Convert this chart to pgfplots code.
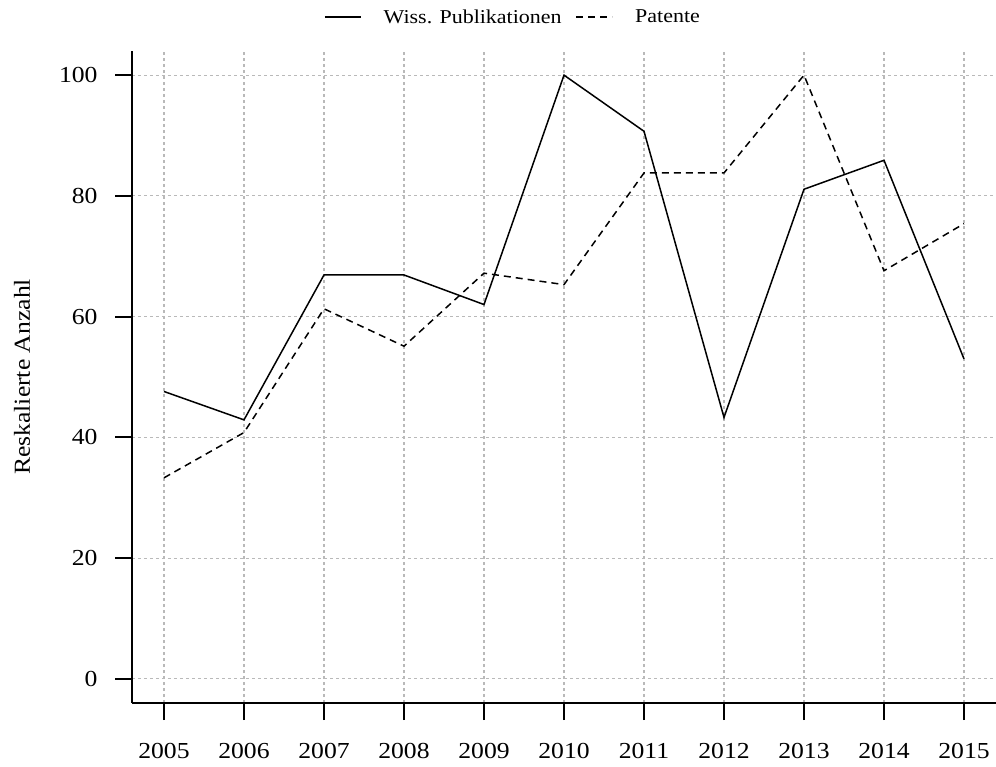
\documentclass[border=0pt]{standalone}
\usepackage{fontspec}
\setmainfont{Liberation Serif}[FakeStretch=1.12]
\usepackage{pgfplots}
\pgfplotsset{compat=1.18}

\pgfplotstableread{
year pub pat
2005 47.6 33.3
2006 42.9 40.8
2007 66.9 61.3
2008 66.9 55.1
2009 62.0 67.2
2010 100.0 65.3
2011 90.7 83.8
2012 43.3 83.8
2013 81.1 100.0
2014 85.9 67.6
2015 53.0 75.4
}\datatable

\begin{document}
\begin{tikzpicture}
% page = 996 x 767 px, axis area starts 132 px from left, 64 px from bottom
\path[use as bounding box] (-132bp,-64bp) rectangle (864bp,703bp);
\begin{axis}[
    at={(0,0)}, anchor=south west,
    scale only axis,
    width=864bp, height=652bp,
    xmin=2004.6, xmax=2015.4,
    ymin=-4, ymax=104,
    axis x line*=bottom, axis y line*=left,
    axis line style={-, line width=1.8bp},
    xtick={2005,2006,...,2015},
    ytick={0,20,...,100},
    tick align=outside,
    major tick length=17bp,
    tick style={line width=1.8bp, black},
    grid=major,
    grid style={gray!55, line width=1.1bp, dash pattern=on 3bp off 3bp},
    /pgf/number format/assume math mode=true,
    /pgf/number format/1000 sep={},
    ticklabel style={font=\fontsize{23}{27}\selectfont},
    xticklabel style={yshift=-20bp},
    yticklabel style={xshift=-14bp},
    ylabel={Reskalierte Anzahl},
    every axis y label/.style={at={([xshift=-110bp]axis description cs:0,0.5)},
        rotate=90, anchor=center, font=\fontsize{23}{27}\selectfont},
    legend columns=-1,
    legend style={draw=none, fill=none,
        at={([yshift=34bp]axis description cs:0.441,1)}, anchor=center,
        font=\fontsize{19.7}{24}\selectfont,
        /tikz/every odd column/.append style={column sep=20bp},
        /tikz/every even column/.append style={column sep=12bp}},
    legend image code/.code={\draw[#1] (0bp,0bp) -- (36bp,0bp);},
]
\addplot[black, line width=1.5bp] table[x=year, y=pub] {\datatable};
\addlegendentry{Wiss. Publikationen}
\addplot[black, line width=1.5bp, dash pattern=on 7bp off 5bp] table[x=year, y=pat] {\datatable};
\addlegendentry{Patente}
\end{axis}
\end{tikzpicture}
\end{document}
